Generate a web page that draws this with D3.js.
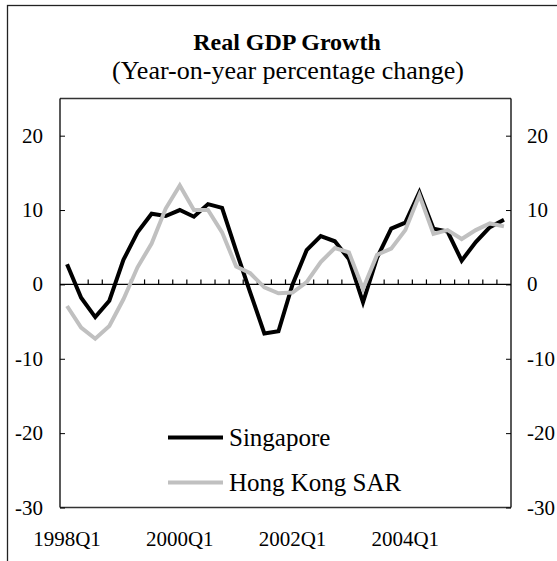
<!DOCTYPE html>
<html>
<head>
<meta charset="utf-8">
<script src="https://cdn.jsdelivr.net/npm/d3@7"></script>
<style>
	body { margin: 0; background: #fff; }
	svg { display: block; font-family: "Liberation Serif", "Times New Roman", serif; }
</style>
</head>
<body>
<svg id="chart"></svg>
<script>
const WIDTH = 557;
const HEIGHT = 561;

// quarters 1998Q1 .. 2005Q4
const quarters = [];
for (let y = 1998; y <= 2005; y++) {
	for (let q = 1; q <= 4; q++) quarters.push(y + "Q" + q);
}

const singapore = [
	2.7, -1.8, -4.4, -2.2, 3.3, 7.0, 9.5, 9.2,
	10.0, 9.1, 10.8, 10.3, 4.5, -1.1, -6.6, -6.3,
	0.0, 4.6, 6.5, 5.8, 3.4, -2.4, 3.6, 7.5,
	8.3, 12.4, 7.5, 7.1, 3.2, 5.7, 7.7, 8.7
];
const hongKong = [
	-2.9, -5.8, -7.3, -5.6, -2.0, 2.3, 5.5, 10.2,
	13.3, 10.0, 10.0, 7.0, 2.4, 1.5, -0.4, -1.2,
	-1.1, 0.3, 3.0, 4.9, 4.3, -0.6, 4.0, 4.8,
	7.3, 12.0, 6.8, 7.3, 6.1, 7.3, 8.2, 7.8
];
const xLabels = ["1998Q1", "2000Q1", "2002Q1", "2004Q1"];
const yTicks = [-30, -20, -10, 0, 10, 20];
const seriesNames = ["Singapore", "Hong Kong SAR"];

const plot = { left: 60, right: 511, top: 98.5, bottom: 507.5 };

const svg = d3.select("#chart")
	.attr("width", WIDTH)
	.attr("height", HEIGHT);

// outer frame (runs off the right and bottom edges)
svg.append("rect")
	.attr("x", 7.5)
	.attr("y", 5.5)
	.attr("width", 600)
	.attr("height", 600)
	.attr("fill", "none")
	.attr("stroke", "#222")
	.attr("stroke-width", 1.3);

const x = d3.scaleBand()
	.domain(quarters)
	.range([plot.left, plot.right])
	.padding(0);

const y = d3.scaleLinear()
	.domain([-30, 25])
	.range([plot.bottom, plot.top]);

// title
svg.append("text")
	.attr("x", 287)
	.attr("y", 50)
	.attr("text-anchor", "middle")
	.attr("font-weight", "bold")
	.attr("font-size", 24)
	.text("Real GDP Growth");

svg.append("text")
	.attr("x", 288)
	.attr("y", 79)
	.attr("text-anchor", "middle")
	.attr("font-size", 26)
	.text("(Year-on-year percentage change)");

// plot area border top / bottom
svg.append("line")
	.attr("x1", plot.left).attr("x2", plot.right)
	.attr("y1", plot.top).attr("y2", plot.top)
	.attr("stroke", "#333").attr("stroke-width", 1.3);
svg.append("line")
	.attr("x1", plot.left).attr("x2", plot.right)
	.attr("y1", plot.bottom).attr("y2", plot.bottom)
	.attr("stroke", "#333").attr("stroke-width", 1.3);

// left value axis, ticks inward
const leftAxis = svg.append("g")
	.attr("transform", `translate(${plot.left},0)`)
	.call(d3.axisRight(y).tickValues(yTicks).tickSize(5).tickFormat(""));
leftAxis.select(".domain").attr("d", `M0,${plot.top}V${plot.bottom}`).attr("stroke-width", 1.3);

const rightAxis = svg.append("g")
	.attr("transform", `translate(${plot.right},0)`)
	.call(d3.axisLeft(y).tickValues(yTicks).tickSize(5).tickFormat(""));
rightAxis.select(".domain").attr("d", `M0,${plot.top}V${plot.bottom}`).attr("stroke-width", 1.3);

svg.selectAll(".ylab-left")
	.data(yTicks)
	.join("text")
	.attr("class", "ylab-left")
	.attr("x", 43)
	.attr("y", (d) => y(d) + 7)
	.attr("text-anchor", "end")
	.attr("font-size", 21)
	.text((d) => d);

svg.selectAll(".ylab-right")
	.data(yTicks)
	.join("text")
	.attr("class", "ylab-right")
	.attr("x", 527)
	.attr("y", (d) => y(d) + 7)
	.attr("font-size", 21)
	.text((d) => d);

// category axis on the zero line, ticks between categories pointing up
const y0 = y(0);
svg.append("line")
	.attr("x1", plot.left).attr("x2", plot.right)
	.attr("y1", y0).attr("y2", y0)
	.attr("stroke", "#000").attr("stroke-width", 1.3);

svg.selectAll(".xtick")
	.data(quarters.slice(1))
	.join("line")
	.attr("class", "xtick")
	.attr("x1", (d) => x(d)).attr("x2", (d) => x(d))
	.attr("y1", y0).attr("y2", y0 - 5)
	.attr("stroke", "#000").attr("stroke-width", 1.2);

svg.selectAll(".xlab")
	.data(xLabels)
	.join("text")
	.attr("class", "xlab")
	.attr("x", (d) => x(d) + x.bandwidth() / 2)
	.attr("y", 546)
	.attr("text-anchor", "middle")
	.attr("font-size", 21)
	.text((d) => d);

const line = d3.line()
	.x((d, i) => x(quarters[i]) + x.bandwidth() / 2)
	.y((d) => y(d));

svg.append("path")
	.datum(singapore)
	.attr("d", line)
	.attr("fill", "none")
	.attr("stroke", "#000")
	.attr("stroke-width", 4)
	.attr("stroke-linejoin", "miter");

svg.append("path")
	.datum(hongKong)
	.attr("d", line)
	.attr("fill", "none")
	.attr("stroke", "#c0c0c0")
	.attr("stroke-width", 4)
	.attr("stroke-linejoin", "miter");

// legend
const legendColors = ["#000", "#c0c0c0"];
const legendY = [437.5, 482.5];
seriesNames.forEach((name, i) => {
	svg.append("line")
		.attr("x1", 168).attr("x2", 223)
		.attr("y1", legendY[i]).attr("y2", legendY[i])
		.attr("stroke", legendColors[i])
		.attr("stroke-width", 4);
	svg.append("text")
		.attr("x", 229)
		.attr("y", legendY[i] + 8.5)
		.attr("font-size", 25)
		.text(name);
});
</script>
</body>
</html>
